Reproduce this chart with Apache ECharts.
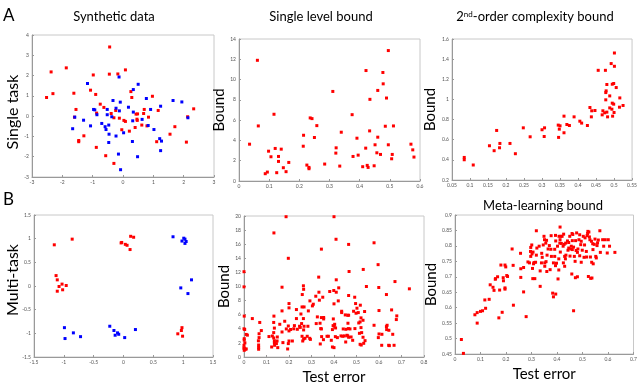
<!DOCTYPE html>
<html>
<head>
<meta charset="utf-8">
<script src="https://cdn.jsdelivr.net/npm/echarts@6/dist/echarts.min.js"></script>
<style>
  html, body { margin: 0; padding: 0; background: #fff; }
  #chart { width: 640px; height: 390px; }
</style>
</head>
<body>
<div id="chart"></div>
<script>
// synthetic data, single task (red / blue class)
const synthRed = [
  [-0.44,3.41],[-2.37,2.18],[-1.87,2.38],[-0.98,2.03],[-0.45,2.07],[0.08,2.28],[-0.17,2.08],
  [-2.52,0.92],[-2.31,1.11],[-1.62,1.13],[-1.07,1.28],[-0.90,1.07],[0.26,1.21],[0.29,0.92],
  [0.97,0.98],[-0.75,0.59],[-1.55,0.33],[-0.63,0.43],[-0.87,0.15],[-0.39,0.13],[-0.24,0.28],
  [-1.60,-0.05],[-0.30,-0.08],[-0.12,-0.10],[0.03,-0.21],[0.08,-0.26],[0.43,0.10],[0.48,0.11],
  [0.47,-0.21],[0.46,-0.15],[0.70,0.33],[0.68,0.13],[0.84,-0.05],[1.16,0.28],[0.62,-0.44],
  [0.79,-0.48],[0.40,-0.56],[0.21,-0.74],[-0.04,-0.67],[-1.29,-0.97],[-1.46,-1.20],[-1.46,-1.26],
  [-0.88,-1.54],[-0.57,-1.95],[-0.30,-2.33],[1.11,-1.26],[1.71,-0.52],[1.55,-0.89],[2.13,-0.03],
  [2.33,0.36],[2.09,-1.28]
];
const synthBlue = [
  [-1.17,1.61],[-0.13,1.93],[0.50,1.57],[0.34,1.31],[-0.33,0.77],[-0.09,0.69],[0.77,0.87],
  [1.65,0.77],[1.94,0.70],[1.24,0.49],[0.18,0.44],[-0.97,0.33],[-0.93,0.31],[-0.52,0.33],
  [-0.23,0.39],[-0.12,0.26],[-0.52,0.07],[-0.86,0.07],[-0.37,-0.03],[0.34,0.20],[0.91,0.33],
  [-1.59,-0.05],[-1.30,-0.20],[-1.66,-0.62],[-1.07,-0.48],[-0.70,-0.36],[-0.59,-0.52],[-0.56,-0.66],
  [-0.47,-0.44],[-0.46,-0.89],[-0.23,-0.98],[0.02,-0.82],[0.32,-0.23],[0.63,-0.16],[0.83,-0.46],
  [1.02,-0.66],[2.14,-0.08],[1.21,-1.11],[1.27,-1.23],[0.31,-1.25],[-0.47,-1.30],[1.24,-1.70],
  [-0.15,-1.87],[0.48,-2.00],[-0.08,-2.64]
];

// single level bound: [test error, bound]
const singleLevel = [
  [0.061,11.9],[0.035,3.63],[0.064,5.43],[0.116,6.58],[0.098,2.94],[0.106,2.39],[0.120,3.21],
  [0.140,3.14],[0.131,2.42],[0.131,1.93],[0.165,1.83],[0.147,1.31],[0.156,0.92],[0.125,0.82],
  [0.094,0.88],[0.087,0.72],[0.214,4.51],[0.213,3.43],[0.236,6.22],[0.242,6.15],[0.258,5.46],
  [0.250,4.29],[0.225,1.57],[0.232,1.34],[0.232,1.21],[0.284,1.67],[0.311,8.83],[0.322,3.27],
  [0.321,2.75],[0.339,4.81],[0.334,1.47],[0.375,6.54],[0.391,4.22],[0.378,2.42],[0.395,2.55],
  [0.410,1.41],[0.425,1.54],[0.428,1.34],[0.448,1.50],[0.421,10.89],[0.434,8.05],[0.433,4.94],
  [0.420,3.24],[0.451,3.57],[0.460,8.93],[0.460,4.32],[0.457,2.78],[0.469,2.62],[0.477,10.70],
  [0.478,9.58],[0.489,8.18],[0.495,12.86],[0.485,5.40],[0.495,3.57],[0.512,5.43],[0.508,2.62],
  [0.506,2.19],[0.570,3.63],[0.576,3.07],[0.580,2.36]
];

// 2nd-order complexity bound
const secondOrder = [
  [0.084,0.424],[0.084,0.401],[0.109,0.349],[0.154,0.540],[0.167,0.491],[0.174,0.692],[0.183,0.563],
  [0.182,0.520],[0.211,0.563],[0.226,0.461],[0.248,0.718],[0.267,0.629],[0.300,0.699],[0.307,0.718],
  [0.306,0.632],[0.345,0.745],[0.350,0.738],[0.346,0.623],[0.348,0.705],[0.361,0.834],[0.361,0.669],
  [0.369,0.751],[0.376,0.741],[0.389,0.827],[0.405,0.784],[0.410,0.765],[0.426,0.741],[0.433,0.920],
  [0.438,0.887],[0.437,0.827],[0.447,0.890],[0.456,1.289],[0.476,1.289],[0.467,0.847],[0.469,0.887],
  [0.474,0.867],[0.477,0.996],[0.480,0.874],[0.482,0.827],[0.477,1.068],[0.478,1.085],[0.480,1.148],
  [0.488,1.035],[0.488,0.916],[0.494,0.903],[0.492,1.356],[0.495,1.151],[0.499,1.158],[0.495,0.963],
  [0.499,0.953],[0.496,0.834],[0.500,0.870],[0.501,1.461],[0.501,1.329],[0.506,1.118],[0.516,1.015],
  [0.515,0.923],[0.525,0.940]
];

// multi-task synthetic data
const multiRed = [
  [-1.16,0.87],[-0.86,0.99],[-1.13,0.22],[-1.11,0.13],[-1.03,0.04],[-1.08,-0.01],[-0.96,0.01],
  [-1.11,-0.11],[-1.02,-0.08],[-0.04,0.91],[-0.03,0.92],[0.03,0.88],[0.06,0.86],[0.11,0.77],
  [0.12,1.05],[0.17,1.03],[0.98,-0.88],[0.97,-0.94],[0.91,-1.01],[0.99,-1.06]
];
const multiBlue = [
  [0.83,1.04],[1.01,1.01],[1.03,0.99],[0.98,0.95],[1.05,0.94],[1.03,0.90],[1.14,0.13],
  [0.96,-0.04],[1.08,-0.16],[-0.99,-0.88],[-0.98,-1.11],[-0.84,-0.99],[-0.72,-1.07],[-0.23,-0.85],
  [-0.16,-0.94],[-0.14,-1.04],[-0.10,-0.99],[-0.08,-1.02],[0.02,-1.09],[0.20,-0.92]
];

// multi-task single level bound
const multiSingle = [
  [0,12.1],[0,9.95],[0.001,5.8],[0,4.0],[0.003,3.9],[0.001,2.6],[0.001,2.4],[0.004,2.0],[0,1.66],
  [0.001,1.2],[0.001,0.95],[0,1.3],[0.006,1.1],[0.01,1.14],[0.015,3.1],[0.01,3.2],[0.037,5.45],
  [0.07,4.9],[0.077,3.75],[0.067,3.3],[0.067,2.75],[0.064,2.3],[0.065,1.7],[0.065,1.37],[0.065,1.1],
  [0.111,2.9],[0.123,1.42],[0.133,17.6],[0.133,5.8],[0.132,4.9],[0.135,4.1],[0.132,3.46],[0.126,2.98],
  [0.132,2.7],[0.135,2.3],[0.135,2.0],[0.136,1.66],[0.148,2.84],[0.147,2.27],[0.15,1.33],[0.144,1.9],
  [0.159,4.64],[0.169,9.9],[0.169,6.54],[0.169,3.55],[0.173,2.04],[0.181,5.07],[0.187,19.9],[0.197,14.0],
  [0.2,7.58],[0.2,6.97],[0.188,3.98],[0.197,4.4],[0.2,3.7],[0.2,2.27],[0.197,1.9],[0.194,1.14],
  [0.207,3.9],[0.221,4.0],[0.215,2.27],[0.224,4.45],[0.233,5.45],[0.233,6.73],[0.237,3.93],[0.247,4.36],
  [0.253,6.1],[0.258,7.1],[0.267,7.1],[0.259,8.86],[0.264,10.1],[0.265,9.6],[0.256,4.74],[0.264,5.45],
  [0.25,4.2],[0.267,4.36],[0.258,2.94],[0.265,2.56],[0.261,2.27],[0.271,2.65],[0.265,3.84],[0.284,4.36],
  [0.281,2.94],[0.292,2.65],[0.295,2.5],[0.286,6.54],[0.293,7.96],[0.308,7.49],[0.304,7.25],[0.319,8.62],
  [0.321,4.74],[0.326,5.69],[0.332,11.33],[0.333,9.19],[0.335,8.06],[0.338,4.79],[0.344,5.59],[0.341,4.03],
  [0.345,2.89],[0.339,1.85],[0.344,15.3],[0.35,8.48],[0.354,5.4],[0.354,5.6],[0.344,3.98],[0.353,2.46],
  [0.369,2.94],[0.375,2.94],[0.381,9.29],[0.388,2.37],[0.393,3.89],[0.396,4.45],[0.393,1.42],[0.399,9.43],
  [0.4,19.9],[0.4,7.54],[0.397,5.4],[0.401,4.36],[0.403,4.64],[0.406,2.89],[0.4,1.33],[0.41,9.19],
  [0.41,10.95],[0.409,16.7],[0.407,4.12],[0.415,2.75],[0.419,7.96],[0.421,9.81],[0.431,2.99],[0.434,6.49],
  [0.434,6.3],[0.439,2.94],[0.441,3.98],[0.45,5.97],[0.446,2.99],[0.452,2.13],[0.453,3.93],[0.461,5.92],
  [0.458,3.08],[0.462,4.79],[0.465,15.97],[0.467,12.13],[0.465,8.72],[0.465,5.92],[0.464,4.03],[0.461,2.99],
  [0.465,2.8],[0.471,3.98],[0.476,2.84],[0.483,2.37],[0.487,6.49],[0.492,8.48],[0.493,4.03],[0.496,7.58],
  [0.498,6.21],[0.502,6.92],[0.508,6.3],[0.513,3.36],[0.51,4.83],[0.516,4.98],[0.517,7.35],[0.52,5.55],
  [0.52,4.17],[0.523,3.46],[0.516,1.8],[0.521,1.7],[0.529,5.21],[0.53,12.42],[0.529,2.8],[0.532,1.94],
  [0.536,6.45],[0.538,2.32],[0.544,10.0],[0.578,16.2],[0.578,4.5],[0.596,13.1],[0.599,9.86],[0.6,6.59],
  [0.597,2.75],[0.6,3.27],[0.612,1.66],[0.613,3.22],[0.633,8.86],[0.633,4.31],[0.634,3.89],[0.636,4.5],
  [0.643,1.66],[0.646,1.61],[0.644,3.79],[0.656,6.68],[0.661,3.22],[0.667,1.66],[0.671,10.7],[0.679,5.83],
  [0.677,5.31],[0.735,9.67]
];

// meta-learning bound
const metaBound = [
  [0.025,0.497],[0.033,0.452],[0.078,0.577],[0.087,0.584],[0.087,0.550],[0.1,0.588],[0.108,0.590],
  [0.117,0.625],[0.12,0.598],[0.134,0.627],[0.138,0.674],[0.149,0.666],[0.153,0.656],[0.158,0.692],
  [0.159,0.694],[0.167,0.70],[0.175,0.657],[0.172,0.567],[0.18,0.738],[0.19,0.687],[0.189,0.697],
  [0.196,0.738],[0.199,0.732],[0.196,0.664],[0.196,0.66],[0.203,0.704],[0.206,0.701],[0.185,0.585],
  [0.224,0.79],[0.228,0.737],[0.229,0.608],[0.257,0.776],[0.258,0.726],[0.258,0.698],[0.269,0.73],
  [0.269,0.651],[0.279,0.571],[0.286,0.748],[0.292,0.745],[0.297,0.766],[0.296,0.782],[0.297,0.795],
  [0.301,0.803],[0.306,0.780],[0.304,0.727],[0.308,0.742],[0.31,0.746],[0.302,0.774],[0.305,0.694],
  [0.313,0.694],[0.316,0.747],[0.319,0.849],[0.321,0.793],[0.319,0.770],[0.33,0.799],[0.334,0.669],
  [0.334,0.719],[0.339,0.745],[0.34,0.776],[0.342,0.763],[0.346,0.803],[0.349,0.831],[0.351,0.82],
  [0.352,0.734],[0.352,0.745],[0.356,0.809],[0.359,0.818],[0.36,0.717],[0.361,0.77],[0.357,0.749],
  [0.365,0.79],[0.37,0.801],[0.373,0.723],[0.377,0.833],[0.376,0.789],[0.378,0.766],[0.383,0.647],
  [0.386,0.635],[0.386,0.745],[0.391,0.766],[0.391,0.789],[0.394,0.834],[0.395,0.816],[0.394,0.736],
  [0.395,0.644],[0.398,0.744],[0.402,0.799],[0.404,0.693],[0.407,0.722],[0.407,0.758],[0.408,0.831],
  [0.411,0.809],[0.412,0.82],[0.412,0.861],[0.413,0.78],[0.415,0.831],[0.417,0.808],[0.42,0.831],
  [0.424,0.799],[0.425,0.745],[0.426,0.838],[0.428,0.805],[0.43,0.734],[0.43,0.766],[0.433,0.758],
  [0.434,0.809],[0.435,0.77],[0.441,0.816],[0.443,0.786],[0.446,0.793],[0.446,0.811],[0.45,0.831],
  [0.451,0.767],[0.454,0.79],[0.456,0.799],[0.459,0.84],[0.46,0.817],[0.46,0.788],[0.462,0.837],
  [0.465,0.59],[0.458,0.709],[0.472,0.697],[0.48,0.70],[0.465,0.796],[0.468,0.766],[0.471,0.75],
  [0.473,0.817],[0.475,0.785],[0.477,0.842],[0.48,0.779],[0.482,0.79],[0.486,0.82],[0.489,0.768],
  [0.489,0.836],[0.493,0.804],[0.495,0.815],[0.495,0.747],[0.499,0.786],[0.503,0.831],[0.506,0.763],
  [0.508,0.803],[0.51,0.826],[0.515,0.782],[0.516,0.764],[0.518,0.833],[0.52,0.84],[0.521,0.847],
  [0.523,0.701],[0.525,0.845],[0.527,0.829],[0.529,0.82],[0.531,0.764],[0.532,0.695],[0.535,0.815],
  [0.536,0.747],[0.537,0.696],[0.54,0.807],[0.541,0.788],[0.542,0.742],[0.546,0.805],[0.549,0.822],
  [0.552,0.766],[0.554,0.761],[0.557,0.801],[0.559,0.81],[0.562,0.819],[0.568,0.849],[0.57,0.779],
  [0.579,0.82],[0.583,0.799],[0.589,0.82],[0.597,0.777],[0.601,0.82],[0.606,0.799],[0.627,0.779]
];

const RED = '#ff0000';
const BLUE = '#0000ff';
const FONT = 'Lato, "Open Sans", sans-serif';

const chart = echarts.init(document.getElementById('chart'), null, { renderer: 'canvas' });

// 6 panels: box positions
const grids = [
  { left: 32, top: 35, width: 182, height: 142 },
  { left: 239, top: 39, width: 181, height: 142 },
  { left: 452, top: 39, width: 182, height: 141 },
  { left: 34, top: 215, width: 179, height: 142 },
  { left: 244, top: 216, width: 180, height: 141 },
  { left: 455, top: 215, width: 179, height: 139 }
].map(g => Object.assign({ show: true, borderColor: '#c8c8c8', borderWidth: 1, backgroundColor: '#fff' }, g));

// axis ranges
const xRanges = [[-3, 3, 1], [0, 0.6, 0.1], [0.05, 0.55, 0.05], [-1.5, 1.5, 0.5], [0, 0.8, 0.1], [0, 0.7, 0.1]];
const yRanges = [[-3, 4, 1], [0, 14, 2], [0.2, 1.6, 0.2], [-1.5, 1.5, 0.5], [0, 20, 2], [0.45, 0.9, 0.05]];

function axisBase(i, r) {
  return {
    gridIndex: i,
    type: 'value',
    min: r[0], max: r[1], interval: r[2],
    splitLine: { show: false },
    axisLine: { show: true, onZero: false, lineStyle: { color: '#999', width: 1 } },
    axisTick: { show: true, inside: true, length: 2, lineStyle: { color: '#999' } },
    axisLabel: { fontSize: 5, color: '#555', margin: 3, fontFamily: FONT }
  };
}

const xAxes = xRanges.map((r, i) => {
  const a = axisBase(i, r);
  if (i === 4 || i === 5) {
    a.name = 'Test error';
    a.nameLocation = 'middle';
    a.nameGap = 13;
    a.nameTextStyle = { fontSize: 15, color: '#000', fontFamily: FONT };
  }
  return a;
});
const yGaps = { 1: 7, 2: 9, 4: 8, 5: 11 };
const yAxes = yRanges.map((r, i) => {
  const a = axisBase(i, r);
  if (yGaps[i] !== undefined) {
    a.name = 'Bound';
    a.nameLocation = 'middle';
    a.nameGap = yGaps[i];
    a.nameTextStyle = { fontSize: 15, color: '#000', fontFamily: FONT };
  }
  return a;
});

function scatter(i, data, color) {
  return {
    type: 'scatter',
    xAxisIndex: i, yAxisIndex: i,
    data: data,
    symbol: 'rect',
    symbolSize: 3,
    itemStyle: { color: color, opacity: 1 },
    silent: true,
    animation: false
  };
}

const option = {
  backgroundColor: '#fff',
  animation: false,
  grid: grids,
  xAxis: xAxes,
  yAxis: yAxes,
  series: [
    scatter(0, synthRed, RED), scatter(0, synthBlue, BLUE),
    scatter(1, singleLevel, RED),
    scatter(2, secondOrder, RED),
    scatter(3, multiRed, RED), scatter(3, multiBlue, BLUE),
    scatter(4, multiSingle, RED),
    scatter(5, metaBound, RED)
  ],
  graphic: [
    { type: 'text', x: 3, y: 7, style: { text: 'A', fontSize: 17, fill: '#000', fontFamily: FONT } },
    { type: 'text', x: 3, y: 191, style: { text: 'B', fontSize: 17, fill: '#000', fontFamily: FONT } },
    { type: 'text', x: 114, y: 17, style: { text: 'Synthetic data', fontSize: 13, fill: '#000', fontFamily: FONT, align: 'center', verticalAlign: 'middle' } },
    { type: 'text', x: 321, y: 17, style: { text: 'Single level bound', fontSize: 13, fill: '#000', fontFamily: FONT, align: 'center', verticalAlign: 'middle' } },
    { type: 'text', x: 535, y: 17, style: {
        text: '2{sup|nd}-order complexity bound', fontSize: 13, fill: '#000', fontFamily: FONT, align: 'center', verticalAlign: 'middle',
        rich: { sup: { fontSize: 8, verticalAlign: 'top', padding: [0, 0, 6, 0], fontFamily: FONT } } } },
    { type: 'text', x: 543, y: 206, style: { text: 'Meta-learning bound', fontSize: 13, fill: '#000', fontFamily: FONT, align: 'center', verticalAlign: 'middle' } },
    { type: 'text', x: 13, y: 112, rotation: Math.PI / 2, style: { text: 'Single task', fontSize: 16, fill: '#000', fontFamily: FONT, align: 'center', verticalAlign: 'middle' } },
    { type: 'text', x: 13, y: 280, rotation: Math.PI / 2, style: { text: 'Multi-task', fontSize: 16, fill: '#000', fontFamily: FONT, align: 'center', verticalAlign: 'middle' } }
  ]
};

chart.setOption(option);
</script>
</body>
</html>
